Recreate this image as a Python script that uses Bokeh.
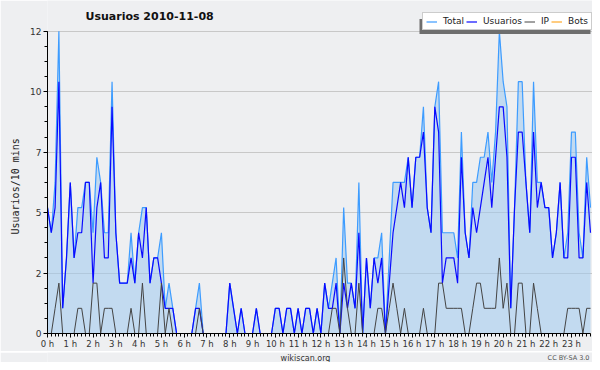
from bokeh.plotting import figure
from bokeh.layouts import column
from bokeh.models import (FixedTicker, Legend, LegendItem, Label, BoxAnnotation,
                          ColumnDataSource, Title)
from bokeh.embed import file_html
from bokeh.resources import INLINE

# ---------------- data ----------------
title_text = "Usuarios  2010-11-08"
y_axis_title = "Usuarios/10 mins"
source_text = "wikiscan.org"
licence_text = "CC BY-SA 3.0"
hour_labels = [f"{h} h" for h in range(24)]
y_tick_values = [0, 2.4, 4.8, 7.2, 9.6, 12]
y_tick_labels = ["0", "2", "5", "7", "10", "12"]
series_names = ["Total", "Usuarios", "IP", "Bots"]

slots = list(range(144))  # 10-minute slots of the day

total = [5, 4, 6, 12, 1, 3, 6, 3, 5, 5, 6, 6, 4, 7, 6, 4, 4, 10, 4, 2, 2, 2, 4, 2,
         4, 5, 5, 2, 3, 3, 4, 1, 2, 1, 0, 0, 0, 0, 0, 1, 2, 0, 0, 0, 0, 0, 0, 0,
         2, 1, 0, 1, 0, 0, 0, 1, 0, 0, 0, 0, 1, 1, 0, 1, 1, 0, 1, 0, 1, 1, 0, 1,
         0, 2, 1, 2, 3, 0, 5, 2, 2, 1, 6, 0, 3, 1, 3, 3, 4, 0, 3, 6, 6, 6, 6, 7,
         5, 7, 7, 9, 5, 4, 9, 10, 4, 4, 4, 4, 3, 8, 4, 3, 6, 6, 7, 7, 8, 6, 8, 12,
         10, 9, 1, 5, 10, 10, 6, 4, 10, 6, 6, 5, 5, 3, 4, 6, 3, 4, 8, 8, 4, 3, 7, 5]

usuarios = [5, 4, 5, 10, 1, 3, 6, 3, 4, 4, 6, 6, 2, 5, 6, 3, 3, 9, 4, 2, 2, 2, 3, 2,
            4, 3, 5, 2, 3, 3, 2, 1, 1, 1, 0, 0, 0, 0, 0, 1, 1, 0, 0, 0, 0, 0, 0, 0,
            2, 1, 0, 1, 0, 0, 0, 1, 0, 0, 0, 0, 1, 1, 0, 1, 1, 0, 1, 0, 1, 1, 0, 1,
            0, 2, 1, 1, 2, 0, 2, 1, 2, 1, 4, 0, 3, 1, 3, 2, 3, 0, 2, 4, 5, 6, 5, 7,
            5, 7, 7, 8, 5, 4, 9, 8, 2, 3, 3, 3, 2, 7, 4, 3, 5, 4, 5, 6, 7, 5, 7, 9,
            9, 7, 1, 5, 8, 8, 6, 4, 8, 5, 6, 5, 5, 3, 4, 6, 3, 3, 7, 7, 3, 3, 6, 4]

ip = [0, 0, 1, 2, 0, 0, 0, 0, 1, 1, 0, 0, 2, 2, 0, 1, 1, 1, 0, 0, 0, 0, 1, 0,
      0, 2, 0, 0, 0, 0, 2, 0, 1, 0, 0, 0, 0, 0, 0, 0, 1, 0, 0, 0, 0, 0, 0, 0,
      0, 0, 0, 0, 0, 0, 0, 0, 0, 0, 0, 0, 0, 0, 0, 0, 0, 0, 0, 0, 0, 0, 0, 0,
      0, 0, 0, 1, 1, 0, 3, 1, 0, 0, 2, 0, 0, 0, 0, 1, 1, 0, 1, 2, 1, 0, 1, 0,
      0, 0, 0, 1, 0, 0, 0, 2, 2, 1, 1, 1, 1, 1, 0, 0, 1, 2, 2, 1, 1, 1, 1, 3,
      1, 2, 0, 0, 2, 2, 0, 0, 2, 1, 0, 0, 0, 0, 0, 0, 0, 1, 1, 1, 1, 0, 1, 1]

bots = [0, 0, 0, 0, 0, 0, 0, 0, 0, 0, 0, 0, 0, 0, 0, 0, 0, 0, 0, 0, 0, 0, 0, 0,
        0, 0, 0, 0, 0, 0, 0, 0, 0, 0, 0, 0, 0, 0, 0, 0, 0, 0, 0, 0, 0, 0, 0, 0,
        0, 0, 0, 0, 0, 0, 0, 0, 0, 0, 0, 0, 0, 0, 0, 0, 0, 0, 0, 0, 0, 0, 0, 0,
        0, 0, 0, 0, 0, 0, 0, 0, 0, 0, 0, 0, 0, 0, 0, 0, 0, 0, 0, 0, 0, 0, 0, 0,
        0, 0, 0, 0, 0, 0, 0, 0, 0, 0, 0, 0, 0, 0, 0, 0, 0, 0, 0, 0, 0, 0, 0, 0,
        0, 0, 0, 0, 0, 0, 0, 0, 0, 0, 0, 0, 0, 0, 0, 0, 0, 0, 0, 0, 0, 0, 0, 0]

# ---------------- style / layout ----------------
BG = "#eeeff1"
FONT = "DejaVu Sans"
C_TOTAL = "#3d9cff"
C_USU = "#0a0aff"
C_IP = "#444444"
C_BOTS = "#ff9900"

W = 592
MAIN_H = 351
FOOT_H = 11
BOTTOM = 16                 # space for the x axis below the frame
LEFT = 47
FRAME_H = MAIN_H - BOTTOM   # frame runs from the figure top to the x axis
TOP_PAD = 31                # px from figure top down to the value 12
y_top = y_tick_values[-1] * FRAME_H / (FRAME_H - TOP_PAD)
x_end = (len(slots) - 1) * (W - LEFT) / (590 - LEFT)

src = ColumnDataSource(dict(x=slots, total=total, usuarios=usuarios, ip=ip, bots=bots))

p = figure(width=W, height=MAIN_H, x_range=(0, x_end), y_range=(0, y_top),
           title=None, output_backend="svg", toolbar_location=None,
           min_border_left=LEFT, min_border_right=0, min_border_top=0,
           min_border_bottom=BOTTOM,
           background_fill_color=BG, border_fill_color=BG)
p.outline_line_color = None

# axes
p.xaxis.ticker = FixedTicker(ticks=[6 * h for h in range(len(hour_labels))],
                             minor_ticks=slots)
p.xaxis.major_label_overrides = {6 * h: lab for h, lab in enumerate(hour_labels)}
p.xaxis.bounds = (0, len(slots) - 1)
p.yaxis.ticker = FixedTicker(ticks=y_tick_values,
                             minor_ticks=[0.6 * k for k in range(21)])
p.yaxis.major_label_overrides = {v: lab for v, lab in zip(y_tick_values, y_tick_labels)}
p.yaxis.bounds = (0, y_tick_values[-1])

for ax in (p.xaxis[0], p.yaxis[0]):
    ax.axis_line_color = "black"
    ax.axis_line_width = 1
    ax.major_tick_line_color = "black"
    ax.minor_tick_line_color = "black"
    ax.major_tick_in = 0
    ax.major_tick_out = 4
    ax.minor_tick_in = 0
    ax.minor_tick_out = 3
    ax.major_label_text_font = FONT
    ax.major_label_text_font_size = "8.5px"
    ax.major_label_text_color = "#333333"
    ax.major_label_standoff = 1
p.yaxis.major_label_standoff = 2
p.yaxis.major_label_text_font_size = "9px"

# y axis title: starts 99 px above the x axis and reads upwards
ylab = Title(text=y_axis_title, align="left", offset=99,
             text_font="DejaVu Sans Mono", text_font_size="10px",
             text_font_style="normal", text_color="#222222", standoff=14)
p.add_layout(ylab, "left")

p.xgrid.visible = False
p.ygrid.grid_line_color = "#c8c8c8"
p.ygrid.grid_line_width = 1
p.ygrid.bounds = (0, len(slots) - 1)

# series
p.varea(x="x", y1=0, y2="total", source=src, fill_color="#9fc8ee", fill_alpha=0.55)
r_total = p.line("x", "total", source=src, line_color=C_TOTAL, line_width=1.2)
r_usu = p.line("x", "usuarios", source=src, line_color=C_USU, line_width=1.2)
r_ip = p.line("x", "ip", source=src, line_color=C_IP, line_width=1)
r_bots = p.line("x", "bots", source=src, line_color=C_BOTS, line_width=1)

# legend shadow + legend (inside the frame, which reaches the figure top)
LEG_LEFT, LEG_BOTTOM, LEG_W, LEG_H = 422 - LEFT, FRAME_H - 32, 171, 15
shadow = BoxAnnotation(left=LEG_LEFT - 3, right=LEG_LEFT - 3 + LEG_W,
                       bottom=LEG_BOTTOM - 3.5, top=LEG_BOTTOM - 3.5 + LEG_H,
                       left_units="screen", right_units="screen",
                       bottom_units="screen", top_units="screen",
                       fill_color="#6e6e6e", fill_alpha=1, line_color=None)
p.add_layout(shadow)

legend = Legend(items=[LegendItem(label=n, renderers=[r])
                       for n, r in zip(series_names, [r_total, r_usu, r_ip, r_bots])],
                orientation="horizontal", location=(LEG_LEFT, LEG_BOTTOM),
                glyph_width=11, glyph_height=9, label_standoff=6, spacing=2,
                padding=3, margin=0, label_width=0, label_height=9,
                label_text_font=FONT, label_text_font_size="9px",
                label_text_color="#222222",
                border_line_color="#9a9a9a", border_line_width=1,
                background_fill_color="white", background_fill_alpha=1)
p.add_layout(legend)

# title
p.add_layout(Label(x=85 - LEFT, y=FRAME_H - 18, x_units="screen", y_units="screen",
                   text=title_text, text_font=FONT, text_font_size="11px",
                   text_font_style="bold", text_color="#111111",
                   text_baseline="middle", text_align="left"))

# footer strip with source and licence texts (frame aligned with the main frame)
foot = figure(width=W, height=FOOT_H, x_range=(0, 1), y_range=(0, 1),
              title=None, output_backend="svg", toolbar_location=None,
              min_border_left=LEFT, min_border_right=0, min_border_top=0,
              min_border_bottom=0, background_fill_color=BG, border_fill_color=BG)
foot.outline_line_color = None
foot.axis.visible = False
foot.grid.visible = False
foot.add_layout(Label(x=305 - LEFT, y=FOOT_H / 2, x_units="screen", y_units="screen",
                      text=source_text, text_font=FONT, text_font_size="8px",
                      text_color="#333333", text_baseline="middle", text_align="center"))
foot.add_layout(Label(x=589 - LEFT, y=FOOT_H / 2, x_units="screen", y_units="screen",
                      text=licence_text, text_font=FONT, text_font_size="6.5px",
                      text_color="#555555", text_baseline="middle", text_align="right"))

page = column(p, foot, spacing=0)
open("out.html", "w").write(file_html(page, INLINE))
